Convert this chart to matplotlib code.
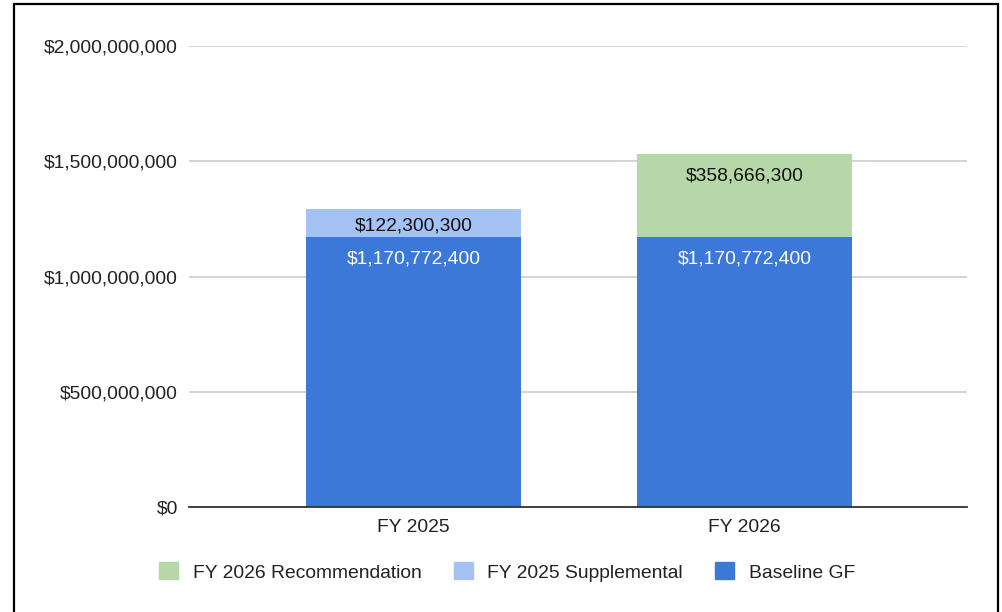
import matplotlib
matplotlib.use("Agg")
import matplotlib.pyplot as plt
from matplotlib.patches import Patch, Rectangle
from matplotlib.ticker import FuncFormatter

plt.rcParams['font.family'] = ['Liberation Sans', 'DejaVu Sans']

# data
years = ["FY 2025", "FY 2026"]
baseline = [1170772400, 1170772400]
supplemental = [122300300, 0]
recommendation = [0, 358666300]
yticks = [0, 500000000, 1000000000, 1500000000, 2000000000]

c_base = "#3c78d8"
c_supp = "#a4c2f4"
c_rec = "#b6d7a8"
fs = 13.9


def main():
    fig = plt.figure(figsize=(10.02, 6.12), dpi=100)
    W, H = 1002, 612
    ax = fig.add_axes([189 / W, (H - 507) / H, 778 / W, 461 / H])

    x = [0, 1]
    w = 0.65
    ax.bar(x, baseline, width=w, color=c_base, zorder=3)
    ax.bar(x, supplemental, width=w, bottom=baseline, color=c_supp, zorder=3)
    bottom2 = [b + s for b, s in zip(baseline, supplemental)]
    ax.bar(x, recommendation, width=w, bottom=bottom2, color=c_rec, zorder=3)

    # data labels, placed near the top of each segment
    for i in x:
        top = baseline[i]
        ax.annotate(f"${baseline[i]:,}", (i, top), xytext=(0, -9.5),
                    textcoords="offset points", ha="center", va="top",
                    color="white", fontsize=fs, zorder=4)
        if supplemental[i]:
            top = baseline[i] + supplemental[i]
            ax.annotate(f"${supplemental[i]:,}", (i, top), xytext=(0, -6),
                        textcoords="offset points", ha="center", va="top",
                        color="#111111", fontsize=fs, zorder=4)
        if recommendation[i]:
            top = bottom2[i] + recommendation[i]
            ax.annotate(f"${recommendation[i]:,}", (i, top), xytext=(0, -9.3),
                        textcoords="offset points", ha="center", va="top",
                        color="#111111", fontsize=fs, zorder=4)

    ax.set_xlim(-0.678, 1.672)
    ax.set_ylim(0, 2000000000)
    ax.set_yticks(yticks)
    ax.yaxis.set_major_formatter(FuncFormatter(lambda v, p: f"${v:,.0f}"))
    ax.set_xticks(x)
    ax.set_xticklabels(years)
    ax.tick_params(axis="y", length=0, pad=8, labelsize=fs, labelcolor="#222222")
    ax.tick_params(axis="x", length=0, pad=9, labelsize=fs, labelcolor="#222222")
    ax.grid(axis="y", color="#cccccc", linewidth=1.2, zorder=0)
    for s in ["top", "right", "left"]:
        ax.spines[s].set_visible(False)
    ax.spines["bottom"].set_color("#333333")
    ax.spines["bottom"].set_linewidth(1.3)
    ax.spines["bottom"].set_zorder(5)

    handles = [Patch(color=c_rec, label="FY 2026 Recommendation"),
               Patch(color=c_supp, label="FY 2025 Supplemental"),
               Patch(color=c_base, label="Baseline GF")]
    fig.legend(handles=handles, loc="center", bbox_to_anchor=(507 / W, (H - 572) / H),
               ncol=3, frameon=False, fontsize=fs, handlelength=0.98,
               handleheight=0.98, handletextpad=0.75, columnspacing=1.68,
               labelcolor="#222222")

    # outer frame
    fig.patches.append(Rectangle((14 / W, -0.05), 984 / W, (H - 4) / H + 0.05,
                                 transform=fig.transFigure, fill=False,
                                 edgecolor="black", linewidth=1.6))

    fig.savefig("out.png", dpi=100)


if __name__ == "__main__":
    main()
